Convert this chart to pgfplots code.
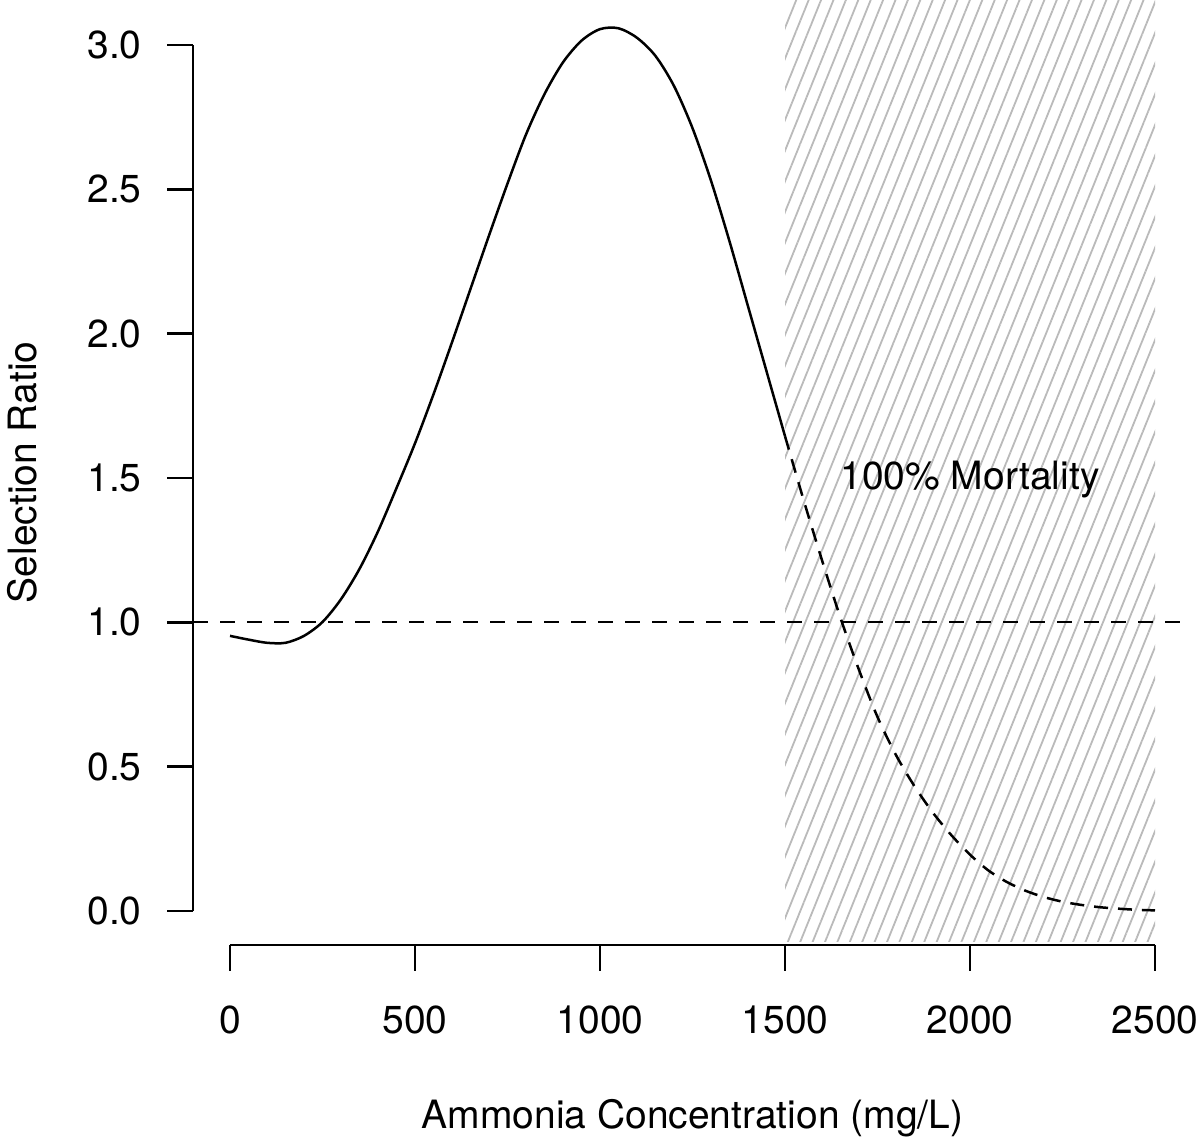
\documentclass[border=0pt]{standalone}
\usepackage{fontspec}
\setmainfont{TeX Gyre Heros}
\usepackage{pgfplots}
\pgfplotsset{compat=1.18}
\usetikzlibrary{patterns.meta}
\newcommand\lab{\fontsize{19.5pt}{23pt}\selectfont}
\begin{document}
\begin{tikzpicture}
\useasboundingbox (0,0) rectangle (600pt,571pt);
\begin{axis}[
  at={(96.5pt,98.5pt)}, anchor=south west,
  width=499.5pt, height=472.5pt, scale only axis,
  xmin=-100, xmax=2600, ymin=-0.118, ymax=3.156,
  axis lines=none, clip=false,
]
% hatched mortality region
\addplot[draw=none, pattern={Lines[angle=68,distance=5.75pt,line width=0.9pt]}, pattern color=black!27]
  coordinates {(1500,-0.107) (2500,-0.107) (2500,3.156) (1500,3.156)} -- cycle;
% reference line
\addplot[line width=1.1pt, dash pattern=on 7.5pt off 6pt] coordinates {(-100,1) (2600,1)};
% fitted curve (solid part)
\addplot[smooth, line width=1.25pt] coordinates {
(0,0.953) (50,0.940) (100,0.929) (150,0.929) (200,0.953) (250,1.001) (300,1.080)
(350,1.185) (400,1.315) (450,1.465) (500,1.620) (550,1.790) (600,1.970) (650,2.155)
(700,2.340) (750,2.520) (800,2.690) (850,2.830) (900,2.940) (950,3.015) (1000,3.055)
(1050,3.058) (1100,3.025) (1150,2.962) (1200,2.858) (1250,2.712) (1300,2.530)
(1350,2.320) (1400,2.095) (1450,1.870) (1500,1.645)};
% fitted curve (dashed part)
\addplot[smooth, line width=1.25pt, dash pattern=on 7pt off 5pt] coordinates {
(1500,1.645) (1550,1.425) (1600,1.215) (1650,1.015) (1700,0.835) (1750,0.672)
(1800,0.540) (1850,0.432) (1900,0.340) (1950,0.262) (2000,0.195) (2050,0.140)
(2100,0.100) (2150,0.070) (2200,0.048) (2250,0.032) (2300,0.021) (2350,0.013)
(2400,0.008) (2450,0.004) (2500,0.002)};
% axes (R style)
\draw[line width=1.2pt] (axis cs:0,-0.118) -- (axis cs:2500,-0.118);
\pgfplotsinvokeforeach{0,500,1000,1500,2000,2500}{
  \draw[line width=1.2pt] (axis cs:#1,-0.118) -- ([yshift=-13pt]axis cs:#1,-0.118);
  \node[anchor=base,inner sep=0pt] at ([yshift=-44pt]axis cs:#1,-0.118) {\lab #1};
}
\draw[line width=1.2pt] (axis cs:-100,0) -- (axis cs:-100,3);
\pgfplotsinvokeforeach{0,0.5,1,1.5,2,2.5,3}{
  \draw[line width=1.2pt] (axis cs:-100,#1) -- ([xshift=-13pt]axis cs:-100,#1);
}
\node[anchor=east,inner sep=0pt] at ([xshift=-25.5pt]axis cs:-100,0) {\lab 0.0};
\node[anchor=east,inner sep=0pt] at ([xshift=-25.5pt]axis cs:-100,0.5) {\lab 0.5};
\node[anchor=east,inner sep=0pt] at ([xshift=-25.5pt]axis cs:-100,1) {\lab 1.0};
\node[anchor=east,inner sep=0pt] at ([xshift=-25.5pt]axis cs:-100,1.5) {\lab 1.5};
\node[anchor=east,inner sep=0pt] at ([xshift=-25.5pt]axis cs:-100,2) {\lab 2.0};
\node[anchor=east,inner sep=0pt] at ([xshift=-25.5pt]axis cs:-100,2.5) {\lab 2.5};
\node[anchor=east,inner sep=0pt] at ([xshift=-25.5pt]axis cs:-100,3) {\lab 3.0};
\node[anchor=base,inner sep=0pt] at ([yshift=-91.5pt]axis cs:1250,-0.118) {\lab Ammonia Concentration (mg/L)};
\node[anchor=base,inner sep=0pt,rotate=90] at ([xshift=-78pt]axis cs:-100,1.519) {\lab Selection Ratio};
\node[anchor=base,inner sep=0pt] at (axis cs:2000,1.461) {\lab 100\% Mortality};
\end{axis}
\end{tikzpicture}
\end{document}
